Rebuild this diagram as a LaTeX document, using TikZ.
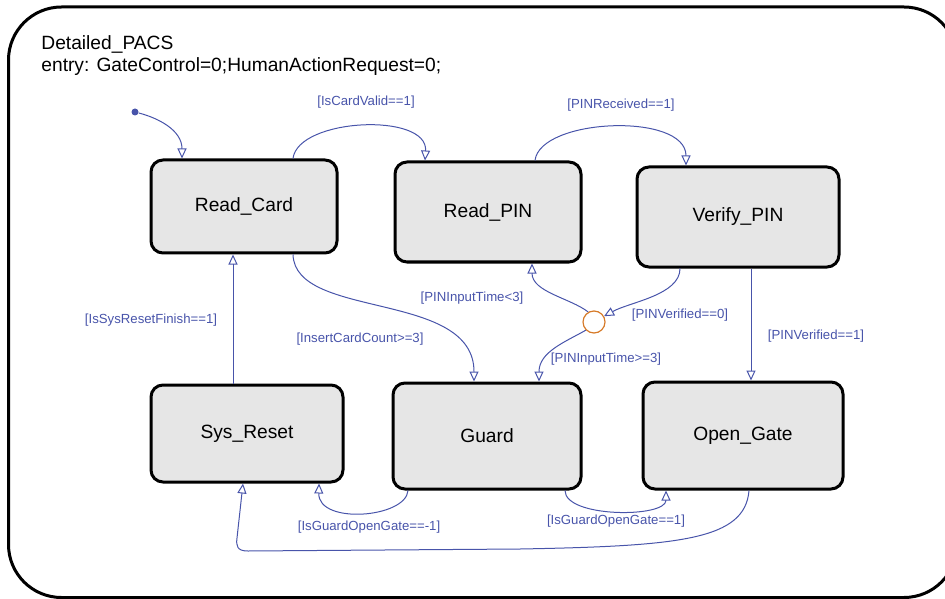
\documentclass[tikz,border=0pt]{standalone}
\usepackage{fontspec}
\setmainfont{Liberation Sans}
\usetikzlibrary{arrows.meta}
\definecolor{trblue}{RGB}{72,84,170}
\definecolor{jnorange}{RGB}{214,122,40}
\definecolor{stgray}{RGB}{230,230,230}

\begin{document}
\begin{tikzpicture}[
      x=0.5pt, y=-0.5pt,
      state/.style={draw, fill=stgray, line width=1.5pt, rounded corners=6pt, inner sep=0pt, font=\fontsize{9.6}{11}\selectfont},
      guard/.style={text=trblue, inner sep=0pt, font=\fontsize{6.6}{8}\selectfont},
      arrow/.style={-{Triangle[open, length=5pt, width=4.5pt]}, trblue, line width=0.5pt}
    ]
    \useasboundingbox (0,0) rectangle (945,598);
    \draw[line width=1.5pt, rounded corners=26.5pt] (8.5,7) rectangle (957,597.5);
    \node[anchor=base west, inner sep=0pt, font=\fontsize{9.6}{11}\selectfont] (title) at (41,50) {Detailed\_PACS};
    \node[anchor=base west, inner sep=0pt, font=\fontsize{9.6}{11}\selectfont] (entry) at (41,72) {entry: GateControl=0;HumanActionRequest=0;};

    \node[state, minimum width=93pt, minimum height=46.5pt] (rc) at (244,206.5) {Read\_Card};
    \node[state, minimum width=93pt, minimum height=50pt] (rp) at (488,212) {Read\_PIN};
    \node[state, minimum width=101pt, minimum height=50pt] (vp) at (738,217) {Verify\_PIN};
    \node[state, minimum width=96pt, minimum height=48.5pt] (sr) at (247,433.5) {Sys\_Reset};
    \node[state, minimum width=94pt, minimum height=53pt] (gd) at (487,436) {Guard};
    \node[state, minimum width=100pt, minimum height=53.5pt] (og) at (743,435.5) {Open\_Gate};
    \node[circle, draw=jnorange, line width=0.6pt, minimum size=11pt, inner sep=0pt] (jn) at (594,322) {};
    \node[circle, fill=trblue, inner sep=0pt, minimum size=3.5pt] (init) at (135,112) {};

    \draw[arrow] (init) .. controls (158,118) and (182,130) .. ([shift={(-62,0)}]rc.north);
    \draw[arrow] ([shift={(49,0)}]rc.north) .. controls (298,118) and (428,112) .. ([shift={(-63,0)}]rp.north);
    \draw[arrow] ([shift={(47,0)}]rp.north) .. controls (540,118) and (686,112) .. ([shift={(-52,0)}]vp.north);
    \draw[arrow] ([shift={(49,0)}]rc.south) .. controls (295,320) and (474,290) .. ([shift={(-13,0)}]gd.north);
    \draw[arrow] ([shift={(-14,0)}]sr.north) -- ([shift={(-11,0)}]rc.south);
    \draw[arrow] ([shift={(-58,0)}]vp.south) .. controls (680,295) and (630,302) .. (jn.30);
    \draw[arrow] (jn.120) .. controls (570,298) and (532,292) .. ([shift={(44,0)}]rp.south);
    \draw[arrow] (jn.225) .. controls (565,342) and (539,352) .. ([shift={(52,0)}]gd.north);
    \draw[arrow] ([shift={(13,0)}]vp.south) -- ([shift={(8,0)}]og.north);
    \draw[arrow] ([shift={(-79,0)}]gd.south) .. controls (406,518) and (318,525) .. ([shift={(72,0)}]sr.south);
    \draw[arrow] ([shift={(78,0)}]gd.south) .. controls (565,518) and (666,518) .. ([shift={(-77,0)}]og.south);
    \draw[arrow] ([shift={(6,0)}]og.south) .. controls (745,540) and (680,546) .. (520,549) -- (248,551)
      .. controls (237,551) and (236,546) .. (237,538) -- ([shift={(-4,0)}]sr.south);

    % guard conditions
    \node[guard] (gcv) at (366,102) {[IsCardValid==1]};
    \node[guard] (gpr) at (621,105) {[PINReceived==1]};
    \node[guard] (gsr) at (151,320) {[IsSysResetFinish==1]};
    \node[guard] (gic) at (360,339) {[InsertCardCount>=3]};
    \node[guard] (gpt) at (472,298) {[PINInputTime<3]};
    \node[guard] (gv0) at (680,315) {[PINVerified==0]};
    \node[guard] (gv1) at (816,336) {[PINVerified==1]};
    \node[guard] (gpx) at (606,359) {[PINInputTime>=3]};
    \node[guard] (gom) at (369,527) {[IsGuardOpenGate==-1]};
    \node[guard] (gop) at (616,521) {[IsGuardOpenGate==1]};
  \end{tikzpicture}
\end{document}
